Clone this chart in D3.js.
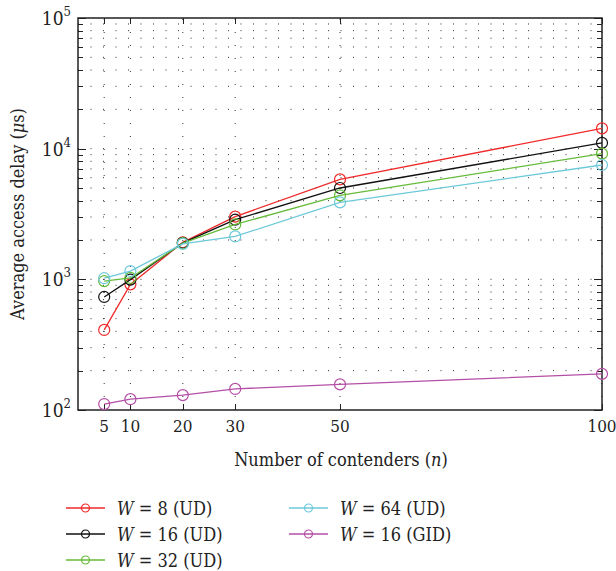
<!DOCTYPE html>
<html>
<head>
<meta charset="utf-8">
<script src="https://cdn.jsdelivr.net/npm/d3@7"></script>
<style>
  body { margin: 0; background: #fff; }
</style>
</head>
<body>
<div id="chart"></div>
<script>
// data
const contenders = [5, 10, 20, 30, 50, 100];
const xTickLabels = ["5", "10", "20", "30", "50", "100"];
const yExponents = [2, 3, 4, 5];

const w8ud = [410, 915, 1920, 3020, 5820, 14300];
const w16ud = [733, 995, 1900, 2860, 5000, 11070];
const w32ud = [970, 1025, 1890, 2630, 4390, 9160];
const w64ud = [1020, 1157, 1870, 2130, 3880, 7500];
const w16gid = [111, 121, 130, 145, 157, 189];

const seriesNames = ["8 (UD)", "16 (UD)", "32 (UD)", "64 (UD)", "16 (GID)"];
const seriesColors = ["#ee2a2a", "#111111", "#66bb3a", "#6cc9d9", "#b44fa6"];
const seriesValues = [w8ud, w16ud, w32ud, w64ud, w16gid];

const W = 616, H = 571;
const plot = { left: 78, right: 602, top: 18, bottom: 410 };

const svg = d3.select("#chart").append("svg")
  .attr("width", W).attr("height", H)
  .style("font-family", "'DejaVu Serif Condensed', 'DejaVu Serif', serif")
  .style("font-stretch", "condensed")
  .attr("fill", "#222");

const x = d3.scaleLinear().domain([0, 100]).range([plot.left, plot.right]);
const y = d3.scaleLog().domain([100, 100000]).range([plot.bottom, plot.top]);

// minor values 2..9 x 10^k
const minor = [];
for (let k = 2; k < 5; k++) for (let m = 2; m <= 9; m++) minor.push(m * Math.pow(10, k));
const major = yExponents.map(e => Math.pow(10, e));

// dotted grid
const grid = svg.append("g").attr("class", "grid");
grid.selectAll(".hg").data(minor.concat(major.slice(1, 3))).enter().append("line")
  .attr("x1", plot.left).attr("x2", plot.right)
  .attr("y1", d => y(d)).attr("y2", d => y(d))
  .style("stroke", "#333").style("stroke-width", 1)
  .style("stroke-dasharray", "1 11.5");
grid.selectAll(".vg").data(contenders).enter().append("line")
  .attr("x1", d => x(d)).attr("x2", d => x(d))
  .attr("y1", plot.bottom).attr("y2", plot.top)
  .style("stroke", "#333").style("stroke-width", 1)
  .style("stroke-dasharray", "1 12");

// ticks inside, on all sides
const ticks = svg.append("g").style("stroke", "#222").style("stroke-width", 1);
[plot.left, plot.right].forEach(edge => {
  const dir = edge === plot.left ? 1 : -1;
  ticks.selectAll(null).data(minor).enter().append("line")
    .attr("x1", edge).attr("x2", edge + dir * 5)
    .attr("y1", d => Math.round(y(d)) + 0.5).attr("y2", d => Math.round(y(d)) + 0.5);
  ticks.selectAll(null).data(major).enter().append("line")
    .attr("x1", edge).attr("x2", edge + dir * 8)
    .attr("y1", d => Math.round(y(d)) + 0.5).attr("y2", d => Math.round(y(d)) + 0.5);
});
[plot.bottom, plot.top].forEach(edge => {
  const dir = edge === plot.bottom ? -1 : 1;
  ticks.selectAll(null).data(contenders).enter().append("line")
    .attr("x1", d => Math.round(x(d)) + 0.5).attr("x2", d => Math.round(x(d)) + 0.5)
    .attr("y1", edge).attr("y2", edge + dir * 6);
});

// frame
svg.append("rect")
  .attr("x", plot.left).attr("y", plot.top)
  .attr("width", plot.right - plot.left).attr("height", plot.bottom - plot.top)
  .style("fill", "none").style("stroke", "#222").style("stroke-width", 1.5);

// x tick labels
svg.append("g").selectAll("text").data(contenders).enter().append("text")
  .attr("x", d => x(d)).attr("y", 432)
  .attr("text-anchor", "middle").attr("font-size", 17)
  .text((d, i) => xTickLabels[i]);

// y tick labels 10^k
const yl = svg.append("g").selectAll("text").data(yExponents).enter().append("text")
  .attr("x", 71).attr("y", d => y(Math.pow(10, d)) + 7)
  .attr("text-anchor", "end").attr("font-size", 19);
yl.append("tspan").text("10");
yl.append("tspan").attr("dy", -9).attr("font-size", 13).text(d => d);

// axis titles
svg.append("text")
  .attr("x", (plot.left + plot.right) / 2 + 1).attr("y", 466)
  .attr("text-anchor", "middle").attr("font-size", 18)
  .html('Number of contenders (<tspan font-style="italic">n</tspan>)');
svg.append("text")
  .attr("transform", `translate(24,${(plot.top + plot.bottom) / 2}) rotate(-90)`)
  .attr("text-anchor", "middle").attr("font-size", 18)
  .html('Average access delay (<tspan font-style="italic">μ</tspan>s)');

// series
const line = d3.line().x((d, i) => x(contenders[i])).y(d => y(d));
const series = svg.append("g").selectAll("g").data(seriesValues).enter().append("g");
series.append("path")
  .attr("d", d => line(d))
  .style("fill", "none").style("stroke-width", 1.3)
  .style("stroke", (d, i) => seriesColors[i]);
series.each(function(vals, i) {
  d3.select(this).selectAll("circle").data(vals).enter().append("circle")
    .attr("cx", (d, j) => x(contenders[j])).attr("cy", d => y(d)).attr("r", 5.5)
    .style("fill", "none").style("stroke-width", 1.2)
    .style("stroke", seriesColors[i]);
});

// legend
const legendPos = [[66, 508], [66, 534], [66, 560], [289, 508], [289, 534]];
const legend = svg.append("g").selectAll("g").data(seriesNames).enter().append("g")
  .attr("transform", (d, i) => `translate(${legendPos[i][0]},${legendPos[i][1]})`);
legend.append("line")
  .attr("x1", 0).attr("x2", 39).attr("y1", 0).attr("y2", 0)
  .style("stroke-width", 1.3).style("stroke", (d, i) => seriesColors[i]);
legend.append("circle")
  .attr("cx", 19.5).attr("cy", 0).attr("r", 4)
  .style("fill", "none").style("stroke-width", 1.2)
  .style("stroke", (d, i) => seriesColors[i]);
legend.append("text")
  .attr("x", 51).attr("y", 7).attr("font-size", 18)
  .html(d => `<tspan font-style="italic">W</tspan> = ${d}`);
</script>
</body>
</html>
